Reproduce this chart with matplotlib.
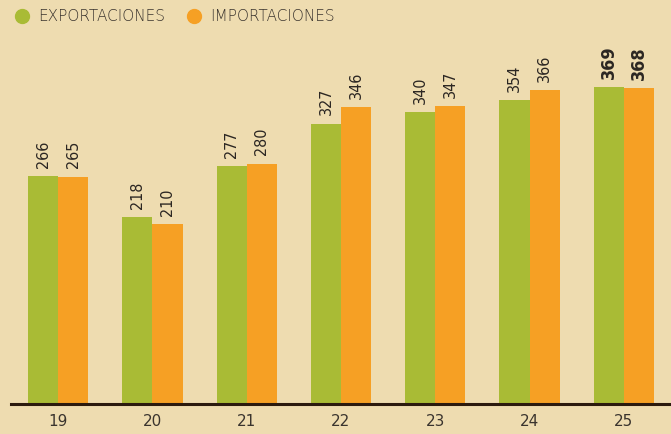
import numpy as np
import matplotlib.pyplot as plt
from matplotlib.lines import Line2D

years = ["19", "20", "21", "22", "23", "24", "25"]
exportaciones = [266, 218, 277, 327, 340, 354, 369]
importaciones = [265, 210, 280, 346, 347, 366, 368]

bg = "#eedcb0"
green = "#a9bb35"
orange = "#f6a024"
txt = "#2b2622"

fig = plt.figure(figsize=(6.71, 4.34), dpi=100, facecolor=bg)
ax = fig.add_axes([11/671, 30/434, 660/671, 404/434], facecolor=bg)

x = np.arange(len(years))
w = 0.32
b1 = ax.bar(x - w/2, exportaciones, w, color=green)
b2 = ax.bar(x + w/2, importaciones, w, color=orange)

last = len(years) - 1
for bars, vals in ((b1, exportaciones), (b2, importaciones)):
    for i, (rect, v) in enumerate(zip(bars, vals)):
        bold = i == last
        ax.annotate(str(v), (rect.get_x() + rect.get_width()/2, v),
                    xytext=(0, 6), textcoords="offset points",
                    rotation=90, ha="center", va="bottom",
                    fontsize=13 if bold else 11.5,
                    fontweight="bold" if bold else "normal",
                    fontstretch="condensed", color=txt)

ax.set_xlim(-0.5, 6.5)
ax.set_ylim(0, 471)
ax.set_xticks(x)
ax.set_xticklabels(years, fontsize=11, color="#3a342e")
ax.tick_params(axis="x", length=0, pad=7)
ax.set_yticks([])
for s in ("top", "right", "left"):
    ax.spines[s].set_visible(False)
ax.spines["bottom"].set_color("#2b1a0e")
ax.spines["bottom"].set_linewidth(2.2)

handles = [Line2D([], [], marker="o", linestyle="", markersize=10,
                  markerfacecolor=green, markeredgecolor=green),
           Line2D([], [], marker="o", linestyle="", markersize=10,
                  markerfacecolor=orange, markeredgecolor=orange)]
fig.legend(handles, ["EXPORTACIONES", "IMPORTACIONES"], loc="upper left",
           bbox_to_anchor=(-0.01, 1.01), ncol=2, frameon=False,
           handletextpad=0.05, columnspacing=0.9,
           prop={"size": 11, "weight": "light"}, labelcolor="#3a342e")

fig.savefig("out.png", dpi=100, facecolor=bg)
